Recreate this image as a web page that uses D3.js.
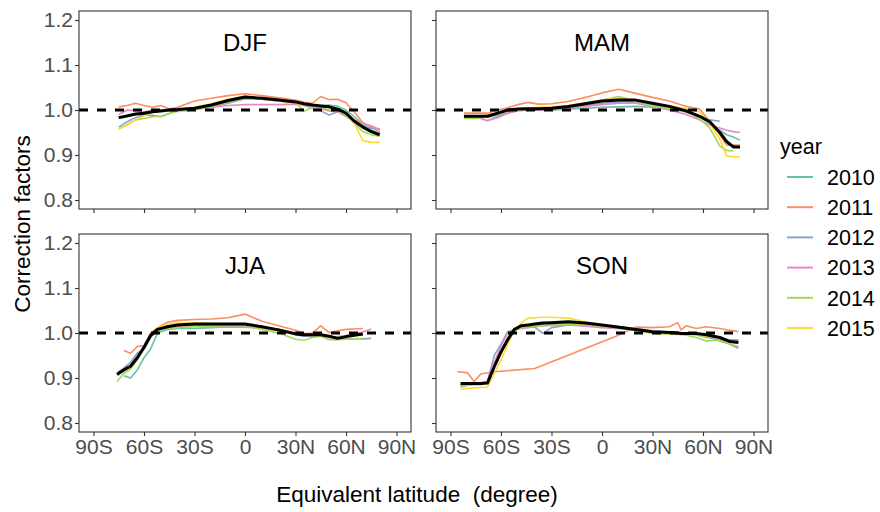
<!DOCTYPE html>
<html><head><meta charset="utf-8">
<script src="https://cdn.jsdelivr.net/npm/d3@7"></script>
<style>
body{margin:0;background:#fff}
text{font-family:"Liberation Sans",Arial,Helvetica,sans-serif}
</style>
</head><body>
<svg id="chart" width="880" height="512"></svg>
<script>
// ---------------- data ----------------
const years = ["2010","2011","2012","2013","2014","2015"];
const yearColors = ["#66C2A5","#FC8D62","#8DA0CB","#E78AC3","#A6D854","#FFD92F"];
const seasons = ["DJF","MAM","JJA","SON"];
const xTickValues = [-90,-60,-30,0,30,60,90];
const xTickLabels = ["90S","60S","30S","0","30N","60N","90N"];
const yTickValues = [0.8,0.9,1.0,1.1,1.2];
const yTickLabels = ["0.8","0.9","1.0","1.1","1.2"];

// DJF
const djfLat  = [-75,-70,-65,-60,-55,-50,-45,-40,-30,-20,-10,0,10,20,30,35,40,45,50,55,60,65,70,75,80];
const djf2010 = [0.981,0.985,0.990,0.990,0.995,0.998,1.000,1.000,1.002,1.008,1.018,1.027,1.026,1.024,1.020,1.012,1.012,1.010,1.011,1.008,1.000,0.985,0.968,0.956,0.948];
const djf2011 = [1.007,1.010,1.015,1.010,1.006,1.010,1.002,1.006,1.020,1.026,1.032,1.036,1.032,1.027,1.022,1.017,1.015,1.030,1.023,1.024,1.016,0.995,0.972,0.962,0.952];
const djf2012 = [0.962,0.974,0.983,0.989,0.988,0.985,0.992,1.000,1.002,1.006,1.015,1.025,1.024,1.020,1.017,1.010,1.005,0.998,0.989,0.996,0.986,0.975,0.963,0.960,0.958];
const djf2013 = [0.990,1.000,0.998,0.996,0.998,1.000,1.000,1.000,1.002,1.006,1.010,1.012,1.012,1.012,1.013,1.012,1.008,1.003,0.998,0.996,0.990,0.978,0.970,0.965,0.956];
const djf2014 = [0.958,0.968,0.978,0.981,0.985,0.986,0.992,0.997,1.000,1.008,1.018,1.026,1.024,1.020,1.018,0.997,1.006,1.006,1.000,0.997,0.990,0.970,0.952,0.945,0.942];
const djf2015 = [0.958,0.966,0.978,0.987,0.995,0.998,1.000,1.001,1.006,1.014,1.024,1.031,1.026,1.020,1.015,1.013,1.010,1.007,1.005,1.000,0.990,0.970,0.932,0.928,0.928];
const djfMean = [0.983,0.987,0.991,0.993,0.996,0.998,1.000,1.001,1.004,1.011,1.021,1.029,1.026,1.022,1.018,1.014,1.011,1.009,1.007,1.002,0.993,0.975,0.962,0.952,0.945];

// MAM
const mamLat  = [-82,-75,-68,-62,-56,-50,-44,-38,-30,-20,-10,0,10,20,30,40,50,58,64,70,74,78,82];
const mam2010 = [0.984,0.984,0.984,0.988,0.997,1.000,1.000,1.000,1.000,1.002,1.004,1.006,1.007,1.008,1.006,1.004,0.997,0.985,0.970,0.955,0.945,0.940,0.933];
const mam2011 = [0.993,0.993,0.993,1.000,1.005,1.012,1.017,1.013,1.014,1.019,1.028,1.038,1.046,1.037,1.028,1.020,1.008,1.002,0.975,0.945,0.922,0.922,0.922];
const mam2012 = [0.985,0.985,0.976,0.985,0.993,1.000,1.000,1.000,1.002,1.006,1.010,1.015,1.018,1.018,1.012,1.004,0.995,0.985,0.978,0.975,null,null,null];
const mam2013 = [0.985,0.985,0.976,0.983,0.993,0.998,1.000,1.000,1.000,1.004,1.008,1.012,1.015,1.015,1.008,1.000,0.990,0.978,0.966,0.960,0.955,0.952,0.950];
const mam2014 = [0.981,0.981,0.985,0.990,0.998,1.000,1.002,1.002,1.004,1.008,1.015,1.022,1.030,1.020,1.008,1.004,0.998,0.980,0.960,0.920,0.910,0.909,null];
const mam2015 = [0.985,0.985,0.990,0.993,1.000,1.004,1.005,1.006,1.007,1.010,1.016,1.022,1.026,1.022,1.014,1.008,1.003,0.996,0.970,0.935,0.898,0.896,0.896];
const mamMean = [0.986,0.986,0.986,0.993,1.000,1.002,1.003,1.003,1.004,1.008,1.014,1.020,1.022,1.022,1.015,1.008,0.998,0.986,0.974,0.950,0.930,0.918,0.918];

// JJA
const jjaLat  = [-76,-72,-68,-64,-60,-56,-52,-46,-40,-30,-20,-10,0,10,20,30,35,40,45,50,55,60,65,70,75];
const jja2010 = [null,0.905,0.900,0.918,0.945,0.965,1.000,1.008,1.010,1.010,1.012,1.014,1.016,1.012,1.008,1.000,0.998,0.996,0.998,0.990,0.992,0.994,0.996,0.996,null];
const jja2011 = [null,0.961,0.955,0.970,0.972,1.000,1.012,1.024,1.028,1.030,1.031,1.034,1.042,1.026,1.016,1.006,0.999,1.000,1.016,1.001,1.005,1.008,1.009,1.010,null];
const jja2012 = [0.912,0.922,0.935,0.955,0.965,0.990,1.008,1.016,1.018,1.018,1.016,1.015,1.015,1.010,1.006,0.996,0.993,0.993,0.995,0.990,0.986,0.987,0.987,0.987,0.988];
const jja2013 = [0.910,0.918,0.928,0.947,0.970,0.996,1.008,1.015,1.016,1.015,1.013,1.013,1.013,1.010,1.005,0.998,0.996,0.994,0.995,0.990,0.990,0.994,0.998,1.002,1.009];
const jja2014 = [0.892,0.910,0.920,0.940,0.965,0.992,1.005,1.010,1.012,1.014,1.015,1.016,1.016,1.008,1.000,0.986,0.984,0.990,0.993,0.985,0.985,0.986,0.987,0.988,null];
const jja2015 = [null,0.915,0.925,0.945,0.968,0.998,1.012,1.020,1.022,1.022,1.021,1.020,1.020,1.012,1.005,0.997,0.996,0.995,0.996,0.990,0.990,0.993,0.995,0.998,null];
const jjaMean = [0.908,0.918,0.926,0.945,0.968,0.995,1.008,1.014,1.018,1.020,1.020,1.020,1.020,1.014,1.007,0.998,0.996,0.996,0.996,0.993,0.988,0.992,0.995,0.998,null];

// SON
const sonLat  = [-86,-84,-80,-76,-72,-68,-64,-60,-56,-52,-48,-44,-40,-35,-30,-20,-10,0,8,20,30,40,45,47,50,56,62,70,76,81];
const son2010 = [null,0.882,0.884,0.885,0.885,0.890,0.930,0.960,0.990,1.008,1.012,1.014,1.016,1.018,1.020,1.022,1.020,1.017,1.015,1.010,1.004,1.002,1.000,0.999,0.998,0.996,0.990,0.987,0.985,0.985];
const son2011 = [0.914,null,0.912,0.892,0.909,null,0.914,null,null,null,null,null,0.921,null,null,null,null,null,0.992,1.013,1.012,1.014,1.023,1.007,1.016,1.010,1.014,1.010,1.006,1.003];
const son2012 = [null,0.880,0.884,0.887,0.889,0.893,0.950,0.975,1.003,1.008,1.011,1.013,1.013,0.999,1.012,1.018,1.018,1.016,1.014,1.010,1.005,1.002,1.000,0.999,0.998,0.997,0.993,0.982,0.975,0.966];
const son2013 = [null,0.883,0.885,0.887,0.888,0.892,0.935,0.970,1.000,1.008,1.010,1.012,1.014,1.016,1.017,1.018,1.015,1.012,1.010,1.008,1.004,1.001,1.000,0.999,0.999,0.997,0.994,0.988,0.984,0.984];
const son2014 = [null,0.883,0.884,0.886,0.888,0.890,0.925,0.955,0.985,1.005,1.012,1.014,1.015,1.016,1.018,1.020,1.018,1.015,1.012,1.006,0.999,0.998,0.997,0.996,0.995,0.990,0.982,0.985,0.975,0.970];
const son2015 = [null,0.875,0.877,0.878,0.879,0.880,0.910,0.940,0.975,1.005,1.022,1.033,1.034,1.035,1.035,1.033,1.025,1.018,1.014,1.006,1.000,0.999,0.998,0.998,0.997,0.996,0.993,0.988,0.980,0.978];
const sonMean = [null,0.888,0.888,0.888,0.888,0.889,0.925,0.958,0.985,1.008,1.016,1.018,1.020,1.022,1.023,1.025,1.022,1.018,1.014,1.008,1.003,1.001,1.000,0.999,0.999,0.999,0.996,0.990,0.981,0.979];

const panels = [
  {name:"DJF", lat:djfLat, series:[djf2010,djf2011,djf2012,djf2013,djf2014,djf2015], mean:djfMean, col:0, row:0},
  {name:"MAM", lat:mamLat, series:[mam2010,mam2011,mam2012,mam2013,mam2014,mam2015], mean:mamMean, col:1, row:0},
  {name:"JJA", lat:jjaLat, series:[jja2010,jja2011,jja2012,jja2013,jja2014,jja2015], mean:jjaMean, col:0, row:1},
  {name:"SON", lat:sonLat, series:[son2010,son2011,son2012,son2013,son2014,son2015], mean:sonMean, col:1, row:1}
];

// ---------------- layout ----------------
const svg = d3.select("#chart");
const panelLeft = [79, 436];
const panelTop = [11, 234];
const pw = 332, ph = 198;
const FONT = '"Liberation Sans",Arial,Helvetica,sans-serif';

panels.forEach(p => {
  const x0 = panelLeft[p.col], y0 = panelTop[p.row];
  const g = svg.append("g").attr("transform", `translate(${x0},${y0})`);
  const x = d3.scaleLinear().domain([-98.6, 98.6]).range([0, pw]);
  const y = d3.scaleLinear().domain([0.78, 1.22]).range([ph, 0]);

  const clipId = "clip" + p.name;
  g.append("clipPath").attr("id", clipId).append("rect").attr("width", pw).attr("height", ph);
  const plot = g.append("g").attr("clip-path", `url(#${clipId})`);

  const line = d3.line().x(d => x(d[0])).y(d => y(d[1]));

  p.series.forEach((vals, i) => {
    const pts = p.lat.map((l, k) => [l, vals[k]]).filter(d => d[1] != null);
    plot.append("path").datum(pts).attr("d", line)
      .attr("fill", "none").attr("stroke", yearColors[i]).attr("stroke-width", 1.6)
      .attr("stroke-linejoin", "round");
  });

  plot.append("line").attr("x1", 0).attr("x2", pw).attr("y1", y(1)).attr("y2", y(1))
    .attr("stroke", "#000").attr("stroke-width", 2.8).attr("stroke-dasharray", "9,9");

  const mpts = p.lat.map((l, k) => [l, p.mean[k]]).filter(d => d[1] != null);
  plot.append("path").datum(mpts).attr("d", line)
    .attr("fill", "none").attr("stroke", "#000").attr("stroke-width", 3)
    .attr("stroke-linejoin", "round");

  g.append("text").attr("x", x(0)).attr("y", y(1.15)).attr("dy", "0.36em")
    .attr("text-anchor", "middle").attr("font-size", 24).attr("fill", "#000").text(p.name);

  // axes
  const xa = d3.axisBottom(x).tickValues(xTickValues).tickSize(4).tickPadding(3)
    .tickFormat((d, i) => p.row === 1 ? xTickLabels[i] : "");
  const gx = g.append("g").attr("transform", `translate(0,${ph})`).call(xa);
  const ya = d3.axisLeft(y).tickValues(yTickValues).tickSize(4).tickPadding(2)
    .tickFormat((d, i) => p.col === 0 ? yTickLabels[i] : "");
  const gy = g.append("g").call(ya);
  [gx, gy].forEach(a => {
    a.select(".domain").remove();
    a.selectAll(".tick line").attr("stroke", "#333").attr("stroke-width", 1.1);
    a.selectAll(".tick text").attr("fill", "#4D4D4D").attr("font-size", 21).attr("font-family", FONT);
  });

  g.append("rect").attr("width", pw).attr("height", ph)
    .attr("fill", "none").attr("stroke", "#333").attr("stroke-width", 1.1);
});

// axis titles
svg.append("text").attr("x", 417).attr("y", 494).attr("dy", "0.36em")
  .attr("text-anchor", "middle").attr("font-size", 22.5).attr("fill", "#000")
  .attr("xml:space", "preserve").style("white-space", "pre")
  .text("Equivalent latitude  (degree)");
svg.append("text").attr("transform", `translate(22,224) rotate(-90)`)
  .attr("dy", "0.36em").attr("text-anchor", "middle").attr("font-size", 22.5).attr("fill", "#000")
  .text("Correction factors");

// legend
const leg = svg.append("g").attr("transform", "translate(780,0)");
leg.append("text").attr("x", 0).attr("y", 146).attr("dy", "0.36em").attr("font-size", 21.5)
  .attr("fill", "#000").text("year");
years.forEach((yr, i) => {
  const cy = 177 + i * 30.2;
  leg.append("line").attr("x1", 7).attr("x2", 33).attr("y1", cy).attr("y2", cy)
    .attr("stroke", yearColors[i]).attr("stroke-width", 2);
  leg.append("text").attr("x", 47).attr("y", cy).attr("dy", "0.36em").attr("font-size", 21.5)
    .attr("fill", "#000").text(yr);
});
</script>
</body></html>
